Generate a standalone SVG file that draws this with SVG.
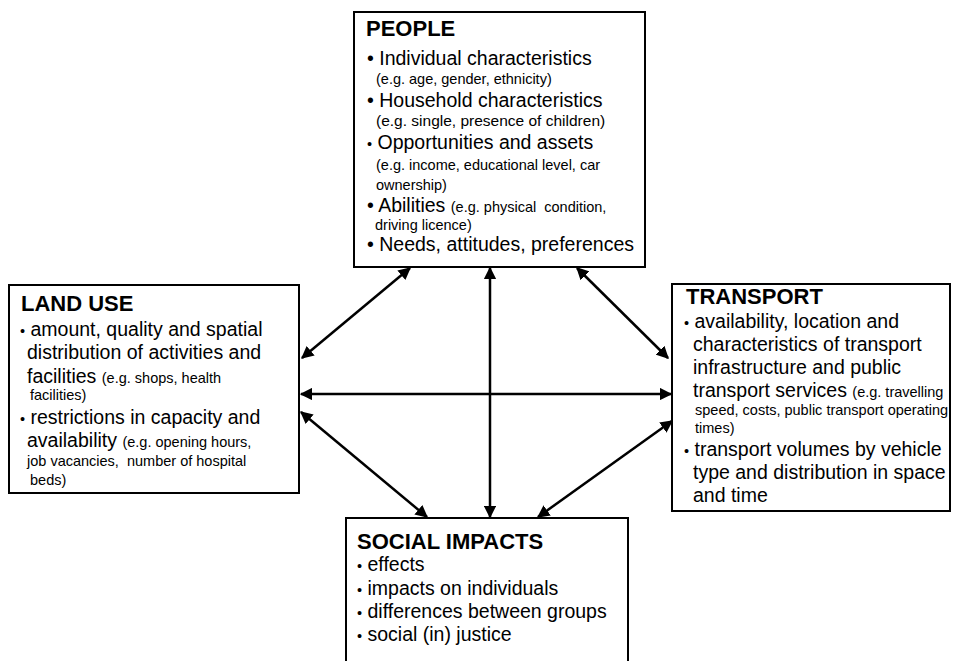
<svg xmlns="http://www.w3.org/2000/svg" width="955" height="661" viewBox="0 0 955 661">
  <style>
    .box { fill: #fff; stroke: #000; stroke-width: 2; }
    .title { font-family: "Liberation Sans", Arial, sans-serif; font-weight: bold; font-size: 22px; fill: #000; }
    .t { font-family: "Liberation Sans", Arial, sans-serif; font-size: 19.5px; fill: #000; }
    .s { font-size: 14.5px; }
    .m { font-size: 15.5px; }
    .link { stroke: #000; stroke-width: 2.5; fill: none; marker-start: url(#head); marker-end: url(#head); }
  </style>
  <defs>
    <marker id="head" viewBox="0 0 10 10" refX="9" refY="5" markerWidth="5" markerHeight="5" orient="auto-start-reverse" markerUnits="strokeWidth">
      <path d="M0,0 L10,5 L0,10 Z" fill="#000"/>
    </marker>
  </defs>

  <rect width="955" height="661" fill="#fff"/>

  <g id="connectors">
    <line class="link" x1="410" y1="268" x2="302" y2="358"/>
    <line class="link" x1="577" y1="268" x2="668" y2="358"/>
    <line class="link" x1="490" y1="268" x2="490" y2="517"/>
    <line class="link" x1="301" y1="394" x2="671" y2="394"/>
    <line class="link" x1="301" y1="412" x2="427" y2="517"/>
    <line class="link" x1="672" y1="421" x2="538" y2="517"/>
  </g>

  <g id="people">
    <rect class="box" x="354" y="12" width="291" height="255"/>
    <text class="title" x="366" y="36">PEOPLE</text>
    <text class="t" x="367" y="65">• Individual characteristics</text>
    <text class="t s" x="376" y="84">(e.g. age, gender, ethnicity)</text>
    <text class="t" x="367" y="107">• Household characteristics</text>
    <text class="t m" x="376" y="126">(e.g. single, presence of children)</text>
    <text class="t" x="367" y="149"><tspan class="s">•</tspan> Opportunities and assets</text>
    <text class="t s" x="376" y="170">(e.g. income, educational level, car</text>
    <text class="t s" x="376" y="190">ownership)</text>
    <text class="t" x="367" y="212">• Abilities <tspan class="s">(e.g. physical&#160; condition,</tspan></text>
    <text class="t s" x="375" y="230">driving licence)</text>
    <text class="t" x="367" y="251">• Needs, attitudes, preferences</text>
  </g>

  <g id="land-use">
    <rect class="box" x="9" y="285" width="290" height="208"/>
    <text class="title" x="21" y="311">LAND USE</text>
    <text class="t" x="20" y="336"><tspan class="s">•</tspan> amount, quality and spatial</text>
    <text class="t" x="27" y="359">distribution of activities and</text>
    <text class="t" x="27" y="383">facilities <tspan class="s">(e.g. shops, health</tspan></text>
    <text class="t s" x="30" y="400">facilities)</text>
    <text class="t" x="20" y="424"><tspan class="s">•</tspan> restrictions in capacity and</text>
    <text class="t" x="27" y="447">availability <tspan class="s">(e.g. opening hours,</tspan></text>
    <text class="t s" x="27" y="466">job vacancies,&#160; number of hospital</text>
    <text class="t s" x="30" y="485">beds)</text>
  </g>

  <g id="transport">
    <rect class="box" x="672" y="284" width="278" height="227"/>
    <text class="title" x="686" y="304">TRANSPORT</text>
    <text class="t" x="684" y="328"><tspan class="s">•</tspan> availability, location and</text>
    <text class="t" x="693" y="351">characteristics of transport</text>
    <text class="t" x="693" y="374">infrastructure and public</text>
    <text class="t" x="693" y="397">transport services <tspan class="s">(e.g. travelling</tspan></text>
    <text class="t s" x="695" y="415">speed, costs, public transport operating</text>
    <text class="t s" x="695" y="433">times)</text>
    <text class="t" x="684" y="456"><tspan class="s">•</tspan> transport volumes by vehicle</text>
    <text class="t" x="693" y="479">type and distribution in space</text>
    <text class="t" x="693" y="502">and time</text>
  </g>

  <g id="social-impacts">
    <rect class="box" x="346" y="518" width="282" height="160"/>
    <text class="title" x="357" y="549">SOCIAL IMPACTS</text>
    <text class="t" x="357" y="571"><tspan class="s">•</tspan> effects</text>
    <text class="t" x="357" y="595"><tspan class="s">•</tspan> impacts on individuals</text>
    <text class="t" x="357" y="618"><tspan class="s">•</tspan> differences between groups</text>
    <text class="t" x="357" y="641"><tspan class="s">•</tspan> social (in) justice</text>
  </g>
</svg>
